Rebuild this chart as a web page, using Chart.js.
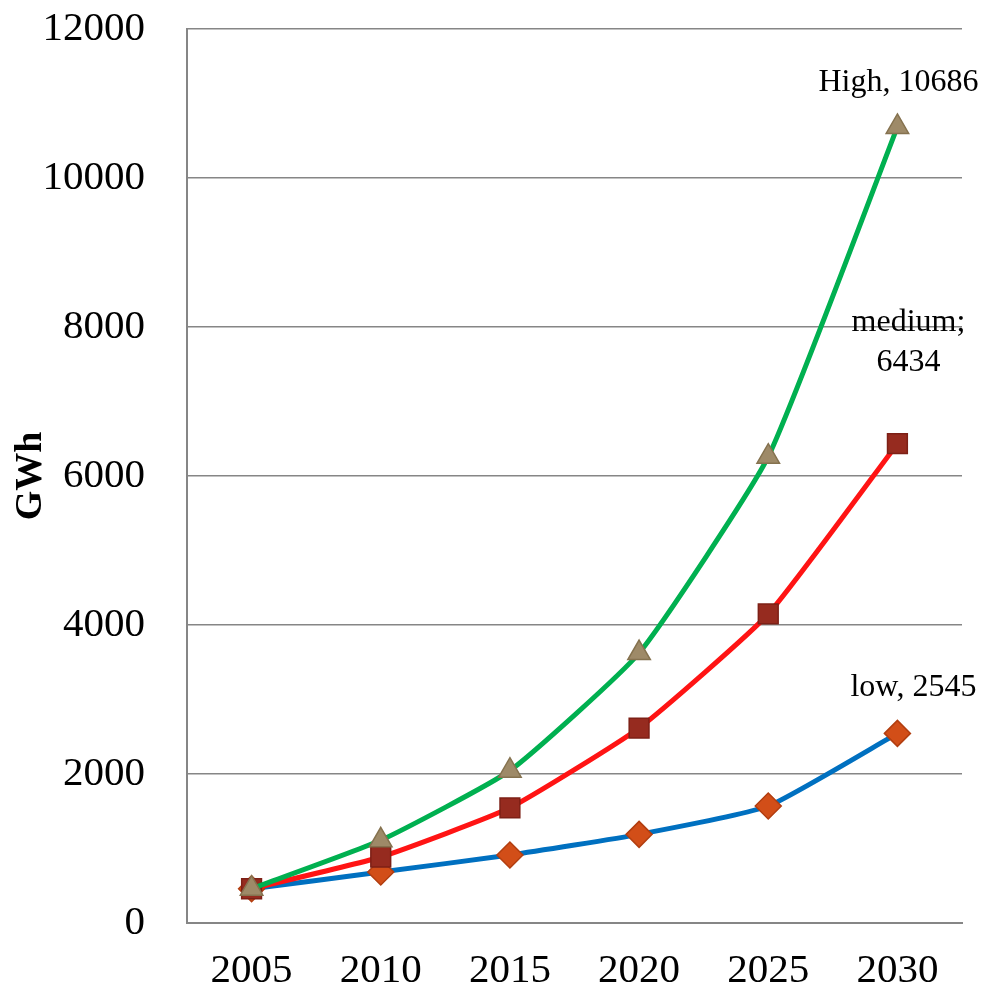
<!DOCTYPE html>
<html>
<head>
<meta charset="utf-8">
<script src="https://cdn.jsdelivr.net/npm/chart.js@4.4.0/dist/chart.umd.min.js"></script>
<style>
  html, body { margin: 0; padding: 0; background: #fff; }
  #wrap { width: 986px; height: 994px; }
</style>
</head>
<body>
<div id="wrap"><canvas id="gwhChart" width="986" height="994"></canvas></div>
<script>
const years = ['2005', '2010', '2015', '2020', '2025', '2030'];
const lowValues = [460, 684, 913, 1190, 1570, 2545];
const mediumValues = [460, 886, 1546, 2617, 4148, 6434];
const highValues = [460, 1110, 2045, 3624, 6259, 10686];
const endLabels = [['low, 2545'], ['medium;', '6434'], ['High, 10686']];

const serif = "'Liberation Serif', 'DejaVu Serif', serif";

// draws the text next to the last point of each series
const endLabelPlugin = {
  id: 'endLabels',
  afterDatasetsDraw(chart, args, opts) {
    const ctx = chart.ctx;
    ctx.save();
    ctx.fillStyle = '#000';
    ctx.font = '32px ' + serif;
    ctx.textAlign = 'center';
    ctx.textBaseline = 'middle';
    chart.data.datasets.forEach(function(ds, i) {
      const meta = chart.getDatasetMeta(i);
      const pt = meta.data[meta.data.length - 1];
      const off = opts.offsets[i];
      endLabels[i].forEach(function(line, j) {
        ctx.fillText(line, pt.x + off[0], pt.y + off[1] + j * 40);
      });
    });
    ctx.restore();
  }
};

new Chart(document.getElementById('gwhChart'), {
  type: 'line',
  data: {
    labels: years,
    datasets: [
      {
        label: 'low',
        data: lowValues,
        borderColor: '#0070c0',
        borderWidth: 5,
        tension: 0.15,
        pointStyle: 'rectRot',
        pointRadius: 13,
        pointBackgroundColor: '#d24e18',
        pointBorderColor: '#b23e10',
        pointBorderWidth: 1.5,
        order: 2
      },
      {
        label: 'medium',
        data: mediumValues,
        borderColor: '#ff1414',
        borderWidth: 5,
        tension: 0.15,
        pointStyle: 'rect',
        pointRadius: 14,
        pointBackgroundColor: '#962b1f',
        pointBorderColor: '#7d2016',
        pointBorderWidth: 1.5,
        order: 1
      },
      {
        label: 'High',
        data: highValues,
        borderColor: '#00b050',
        borderWidth: 5,
        tension: 0.15,
        pointStyle: 'triangle',
        pointRadius: 13,
        pointBackgroundColor: '#9e8a68',
        pointBorderColor: '#85724f',
        pointBorderWidth: 1.5,
        order: 0
      }
    ]
  },
  options: {
    responsive: false,
    animation: false,
    layout: {
      padding: { left: 0, top: 29, right: 24, bottom: 0 }
    },
    plugins: {
      legend: { display: false },
      tooltip: { enabled: false },
      endLabels: {
        offsets: [[16, -46], [11, -121], [1, -44]]
      }
    },
    scales: {
      x: {
        offset: true,
        grid: { display: false, drawTicks: false },
        border: { display: true, color: '#868686', width: 2 },
        ticks: {
          color: '#000',
          padding: 24,
          maxRotation: 0,
          font: { family: serif, size: 41 }
        },
        afterFit(scale) { scale.height = 71; }
      },
      y: {
        min: 0,
        max: 12000,
        grid: { color: '#868686', lineWidth: 1.5, drawTicks: false },
        border: { display: true, color: '#868686', width: 2 },
        ticks: {
          stepSize: 2000,
          color: '#000',
          padding: 42,
          font: { family: serif, size: 41 },
          callback: function(value) { return String(value); }
        },
        title: {
          display: true,
          text: 'GWh',
          color: '#000',
          padding: { top: 8, bottom: 0 },
          font: { family: serif, size: 38, weight: 'bold' }
        },
        afterFit(scale) {
          scale.width = 187;
          scale.paddingTop = 0;
          scale.paddingBottom = 0;
        }
      }
    }
  },
  plugins: [endLabelPlugin]
});
</script>
</body>
</html>
